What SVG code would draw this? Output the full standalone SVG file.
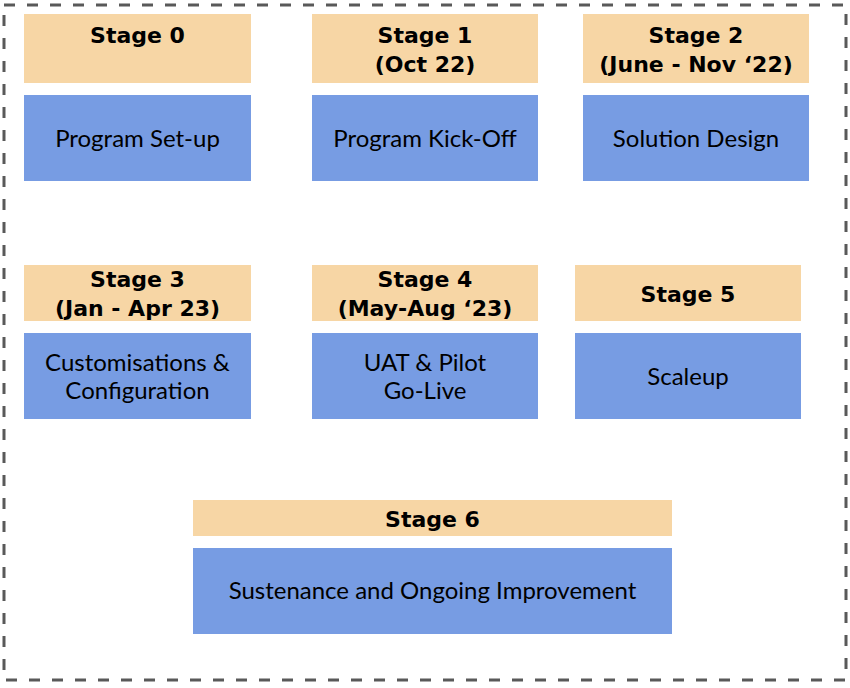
<svg xmlns="http://www.w3.org/2000/svg" width="850" height="688" viewBox="0 0 850 688">
<style>
.hdr{fill:#F7D6A5}
.body{fill:#779CE3}
.ht{font-family:"DejaVu Sans",sans-serif;font-weight:bold;font-size:22px;fill:#000;text-anchor:middle}
.bt{font-family:Lato,"Liberation Sans",sans-serif;font-size:24px;fill:#000;text-anchor:middle}
.frame{fill:none;stroke:#595959;stroke-width:3;stroke-dasharray:11 12}
</style>
<rect class="frame" x="4" y="5" width="842" height="675"/>
<g id="stage0">
<rect class="hdr" x="24" y="14" width="227" height="69"/>
<text class="ht" x="137.5" y="43">Stage 0</text>
<rect class="body" x="24" y="95" width="227" height="86"/>
<text class="bt" x="137.5" y="146.5">Program Set-up</text>
</g>
<g id="stage1">
<rect class="hdr" x="312" y="14" width="226" height="69"/>
<text class="ht" x="425" y="43">Stage 1</text>
<text class="ht" x="425" y="72">(Oct 22)</text>
<rect class="body" x="312" y="95" width="226" height="86"/>
<text class="bt" x="425" y="146.5">Program Kick-Off</text>
</g>
<g id="stage2">
<rect class="hdr" x="583" y="14" width="226" height="69"/>
<text class="ht" x="696" y="43">Stage 2</text>
<text class="ht" x="696" y="72">(June - Nov ‘22)</text>
<rect class="body" x="583" y="95" width="226" height="86"/>
<text class="bt" x="696" y="146.5">Solution Design</text>
</g>
<g id="stage3">
<rect class="hdr" x="24" y="265" width="227" height="56"/>
<text class="ht" x="137.5" y="287">Stage 3</text>
<text class="ht" x="137.5" y="316">(Jan - Apr 23)</text>
<rect class="body" x="24" y="333" width="227" height="86"/>
<text class="bt" x="137.5" y="370.5">Customisations &amp;</text>
<text class="bt" x="137.5" y="399">Configuration</text>
</g>
<g id="stage4">
<rect class="hdr" x="312" y="265" width="226" height="56"/>
<text class="ht" x="425" y="287">Stage 4</text>
<text class="ht" x="425" y="316">(May-Aug ‘23)</text>
<rect class="body" x="312" y="333" width="226" height="86"/>
<text class="bt" x="425" y="370.5">UAT &amp; Pilot</text>
<text class="bt" x="425" y="399">Go-Live</text>
</g>
<g id="stage5">
<rect class="hdr" x="575" y="265" width="226" height="56"/>
<text class="ht" x="688" y="302">Stage 5</text>
<rect class="body" x="575" y="333" width="226" height="86"/>
<text class="bt" x="688" y="384.5">Scaleup</text>
</g>
<g id="stage6">
<rect class="hdr" x="193" y="500" width="479" height="36"/>
<text class="ht" x="432.5" y="527">Stage 6</text>
<rect class="body" x="193" y="548" width="479" height="86"/>
<text class="bt" x="432.5" y="599">Sustenance and Ongoing Improvement</text>
</g>
<g id="connectors"/>
</svg>
